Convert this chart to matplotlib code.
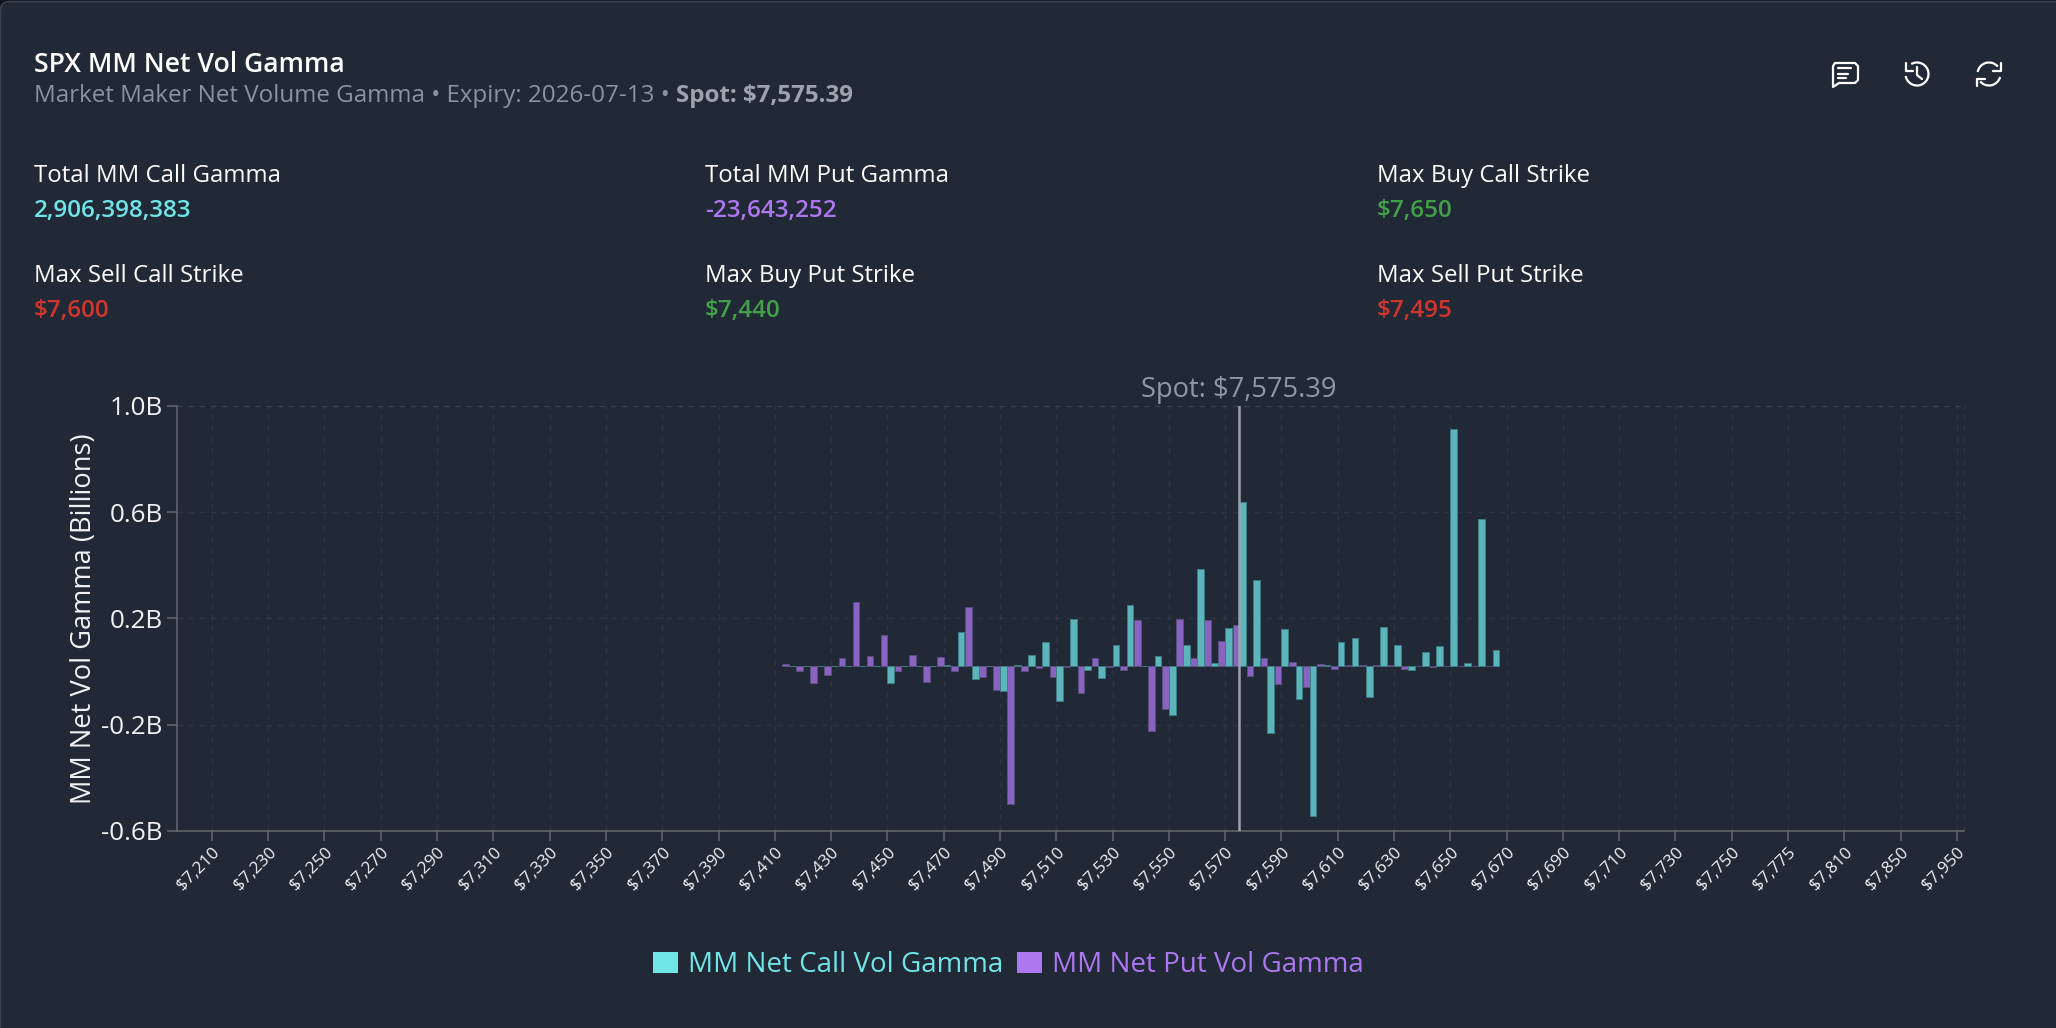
#!/usr/bin/env python3

import matplotlib
matplotlib.use("Agg")
import matplotlib.pyplot as plt
from matplotlib.patches import Arc, FancyBboxPatch, Patch


WIDTH, HEIGHT = 2056, 1028
BG = "#212936"
CALL_COLOR = "#70E5E7"
PUT_COLOR = "#AD77EF"
GREEN = "#43A047"
RED = "#D0362B"
FONT = "Open Sans"

# axis categories, not evenly spaced past 7750
STRIKES = list(range(7200, 7755, 5)) + [7760, 7765, 7770, 7775, 7780, 7790, 7800, 7810,
                                        7820, 7825, 7830, 7850, 7875, 7900, 7925, 7950]
TICK_STRIKES = list(range(7210, 7770, 20)) + [7775, 7810, 7850, 7950]

BAR_STRIKES = list(range(7415, 7670, 5))
CALL_GAMMA = [
    0.0, 0.0, 0.0, 0.0, 0.0, 0.002, 0.001, -0.062, 0.0, 0.001,
    0.001, 0.005, 0.129, -0.049, -0.001, -0.093, 0.004, 0.041, 0.092, -0.131,
    0.178, -0.013, -0.044, 0.08, 0.229, 0.001, 0.039, -0.185, 0.079, 0.367,
    0.01, 0.142, 0.62, 0.324, -0.251, 0.141, -0.124, -0.563, 0.005, 0.09,
    0.105, -0.117, 0.147, 0.079, -0.016, 0.053, 0.074, 0.892, 0.011, 0.554,
    0.06,
]
PUT_GAMMA = [
    0.009, -0.018, -0.063, -0.035, 0.03, 0.24, 0.038, 0.119, -0.02, 0.041,
    -0.058, 0.034, -0.018, 0.221, -0.04, -0.09, -0.52, -0.02, -0.006, -0.041,
    -0.005, -0.102, 0.03, -0.004, -0.016, 0.173, -0.246, -0.16, 0.177, 0.031,
    0.173, 0.094, 0.156, -0.038, 0.03, -0.068, 0.015, -0.078, 0.009, -0.01,
    0.005, 0.003, 0.004, 0.004, -0.009, 0.001, -0.004, 0.0, 0.0, 0.0,
    0.0,
]

# the scale is not centred on round numbers, the labels are rounded
Y_TICKS = [-0.62, -0.22, 0.18, 0.58, 0.98]
Y_LABELS = ["-0.6B", "-0.2B", "0.2B", "0.6B", "1.0B"]

SPOT_STRIKE = 7575
SPOT_LABEL = "Spot: $7,575.39"

STATS = [
    ("Total MM Call Gamma", "2,906,398,383", CALL_COLOR, 34, 182),
    ("Total MM Put Gamma", "-23,643,252", PUT_COLOR, 705, 182),
    ("Max Buy Call Strike", "$7,650", GREEN, 1377, 182),
    ("Max Sell Call Strike", "$7,600", RED, 34, 282),
    ("Max Buy Put Strike", "$7,440", GREEN, 705, 282),
    ("Max Sell Put Strike", "$7,495", RED, 1377, 282),
]


def px(size):
    return size * 0.72


def with_alpha(color, alpha):
    return matplotlib.colors.to_rgba(color, alpha)


def draw_header(fig, overlay):
    overlay.text(34, 72, "SPX MM Net Vol Gamma", color="white", fontsize=px(26.6),
                 fontweight="semibold", va="baseline")
    sub = overlay.text(34, 102, "Market Maker Net Volume Gamma \u2022 Expiry: 2026-07-13 \u2022 ",
                       color="#8B93A1", fontsize=px(24.1), va="baseline")
    fig.canvas.draw()
    box = sub.get_window_extent()
    overlay.text(box.x1, 102, "Spot: $7,575.39", color="#9CA3AF", fontsize=px(24.1),
                 fontweight="bold", va="baseline")

    for label, value, color, x, y in STATS:
        overlay.text(x, y, label, color="white", fontsize=px(24), va="baseline")
        overlay.text(x, y + 35.5, value, color=color, fontsize=px(24.3),
                     fontweight="semibold", va="baseline")


def draw_icons(overlay):
    style = dict(color="white", lw=1.6, solid_capstyle="round", solid_joinstyle="round")

    # comment bubble
    overlay.plot([1835, 1855, 1858, 1858, 1855, 1839, 1833, 1833, 1835],
                 [63, 63, 66, 80, 83, 83, 87, 66, 63], **style)
    overlay.plot([1838, 1851], [68, 68], **style)
    overlay.plot([1838, 1848], [73.5, 73.5], **style)
    overlay.plot([1838, 1846], [78, 78], **style)

    # history clock
    overlay.add_patch(Arc((1917, 74), 23, 23, theta1=-120, theta2=170, color="white", lw=1.6))
    overlay.plot([1906, 1906, 1913], [63, 71, 71], **style)
    overlay.plot([1917, 1917, 1922], [67, 75, 79], **style)

    # refresh arrows
    overlay.add_patch(Arc((1989, 74), 23, 23, theta1=190, theta2=320, color="white", lw=1.6))
    overlay.add_patch(Arc((1989, 74), 23, 23, theta1=15, theta2=140, color="white", lw=1.6))
    overlay.plot([2001, 2001, 1993], [63, 71, 71], **style)
    overlay.plot([1977, 1977, 1985], [86, 79, 79], **style)


def draw_chart(fig):
    left, right, top, bottom = 176.7, 1964, 406, 830.7
    ax = fig.add_axes([left / WIDTH, 1 - bottom / HEIGHT, (right - left) / WIDTH, (bottom - top) / HEIGHT])
    ax.set_facecolor("none")

    positions = [STRIKES.index(strike) for strike in BAR_STRIKES]
    bar_width = 0.474
    put_x = [pos - bar_width / 2 for pos in positions]
    call_x = [pos + bar_width / 2 for pos in positions]
    ax.bar(put_x, PUT_GAMMA, width=bar_width, facecolor=with_alpha(PUT_COLOR, 0.75),
           edgecolor="#5C4F80", linewidth=0.7, zorder=2)
    ax.bar(call_x, CALL_GAMMA, width=bar_width, facecolor=with_alpha(CALL_COLOR, 0.75),
           edgecolor="#3F7C84", linewidth=0.7, zorder=2)

    spot_x = STRIKES.index(SPOT_STRIKE)
    ax.axvline(spot_x, color="#9CA3AF", lw=1.8, zorder=3)
    ax.annotate(SPOT_LABEL, xy=(spot_x, 1.0), xycoords=ax.get_xaxis_transform(), xytext=(0, 6.5),
                textcoords="offset points", color="#8F98A6", fontsize=px(27.2), ha="center", va="baseline")

    ax.set_xlim(-0.5, len(STRIKES) - 0.5)
    ax.set_ylim(-0.62, 0.98)

    tick_pos = [STRIKES.index(strike) for strike in TICK_STRIKES]
    ax.set_xticks(tick_pos)
    ax.set_xticklabels([f"${strike:,}" for strike in TICK_STRIKES], rotation=45, ha="right",
                       va="top", rotation_mode="anchor", fontsize=px(17), color="#F0F2F5")
    ax.set_yticks(Y_TICKS)
    ax.set_yticklabels(Y_LABELS, fontsize=px(26), color="#F0F2F5")
    ax.tick_params(axis="both", color="#666A70", width=1.1, length=7.2)
    ax.tick_params(axis="x", pad=3)
    ax.tick_params(axis="y", pad=3)
    ax.set_ylabel("MM Net Vol Gamma (Billions)", fontsize=px(27.3), color="#F0F2F5", labelpad=2.5)

    ax.set_axisbelow(True)
    ax.grid(True, color="#FFFFFF", alpha=0.055, lw=1.0, linestyle=(0, (4, 4)))
    ax.plot([1, 1], [0, 1], transform=ax.transAxes, color="#FFFFFF", alpha=0.055, lw=1.0,
            linestyle=(0, (4, 4)), clip_on=False)
    ax.plot([0, 1], [1, 1], transform=ax.transAxes, color="#FFFFFF", alpha=0.055, lw=1.0,
            linestyle=(0, (4, 4)), clip_on=False)

    for side in ("top", "right"):
        ax.spines[side].set_visible(False)
    for side in ("left", "bottom"):
        ax.spines[side].set_color("#666A70")
        ax.spines[side].set_linewidth(1.1)
    return ax


def draw_legend(fig):
    handles = [Patch(facecolor=CALL_COLOR, label="MM Net Call Vol Gamma"),
               Patch(facecolor=PUT_COLOR, label="MM Net Put Vol Gamma")]
    legend = fig.legend(handles=handles, loc="center", bbox_to_anchor=(0.4905, 1 - 965 / HEIGHT), ncol=2,
                        frameon=False, fontsize=px(27.7), handlelength=0.9, handleheight=0.8,
                        handletextpad=0.35, columnspacing=0.5)
    for text, color in zip(legend.get_texts(), (CALL_COLOR, PUT_COLOR)):
        text.set_color(color)


def main():
    plt.rcParams["font.family"] = [FONT, "Noto Sans", "DejaVu Sans"]

    fig = plt.figure(figsize=(WIDTH / 100, HEIGHT / 100), dpi=100, facecolor="#10151D")

    overlay = fig.add_axes([0, 0, 1, 1], zorder=-1)
    overlay.set_xlim(0, WIDTH)
    overlay.set_ylim(HEIGHT, 0)
    overlay.axis("off")
    overlay.add_patch(FancyBboxPatch((0.5, 1.5), WIDTH + 20, HEIGHT + 20, boxstyle="round,pad=0,rounding_size=9",
                                     facecolor=BG, edgecolor="#3A4352", lw=1))

    draw_chart(fig)
    draw_header(fig, overlay)
    draw_icons(overlay)
    draw_legend(fig)

    fig.savefig("out.png", dpi=100, facecolor=fig.get_facecolor())
    plt.close(fig)


if __name__ == "__main__":
    main()
